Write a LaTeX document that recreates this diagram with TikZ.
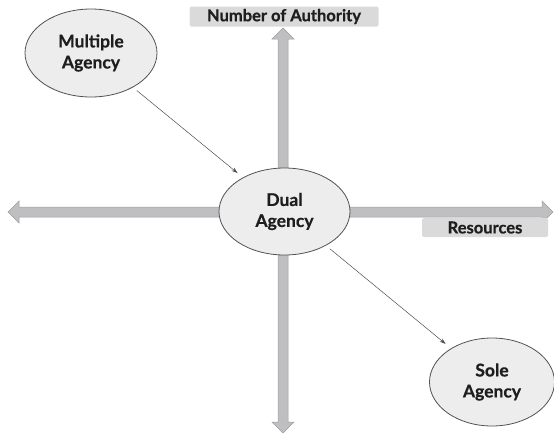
\documentclass[tikz,border=0pt]{standalone}
\usepackage{fontspec}
\setsansfont{Lato}[BoldFeatures={FakeBold=0.6}]
\usepackage{tikz}
\usetikzlibrary{shapes.geometric}
\usetikzlibrary{arrows.meta}

\definecolor{axisgray}{HTML}{BFBFC1}
\definecolor{axisedge}{HTML}{9E9EA0}
\definecolor{cellgray}{HTML}{EDEDED}
\definecolor{tabgray}{HTML}{DADADB}
\definecolor{inkgray}{HTML}{1E1E1E}

\tikzset{
	agency/.style={ellipse, draw=black!68, fill=cellgray, line width=0.8pt,
		align=center, text=inkgray, font=\sffamily\bfseries\fontsize{17.5}{21}\selectfont},
	tab/.style={fill=tabgray, rounded corners=1.5pt, inner sep=0pt, text=inkgray,
		font=\sffamily\bfseries\fontsize{16.5}{19}\selectfont},
	axis/.style={fill=axisgray, draw=axisedge, line width=0.5pt, line join=miter},
	link/.style={draw=black!70, line width=0.5pt, -{Stealth[length=6pt,width=4pt]},
		shorten <=5pt, shorten >=7pt}
}

\begin{document}
\begin{tikzpicture}[x=1pt,y=-1pt]
	\useasboundingbox (0,0) rectangle (554,434);
	% axes
	\draw[axis] (8,212) -- (19,201) -- (19,207) -- (542,207) -- (542,201) -- (553,212)
		-- (542,223) -- (542,217) -- (19,217) -- (19,223) -- cycle;
	\draw[axis] (283,28) -- (294,39) -- (288,39) -- (288,422) -- (294,422) -- (283,433)
		-- (272,422) -- (278,422) -- (278,39) -- (272,39) -- cycle;
	% axis captions
	\node[tab, minimum width=189pt, minimum height=20pt] (authority) at (284,16.5) {Number of Authority};
	\node[tab, minimum width=126pt, minimum height=19pt] (resources) at (485,227.5) {Resources};
	% agency types
	\node[agency, minimum width=132pt, minimum height=88pt] (multiple) at (91,53) {Multiple\\Agency};
	\node[agency, minimum width=131pt, minimum height=87pt] (dual) at (284.5,211.5) {Dual\\Agency};
	\node[agency, minimum width=125pt, minimum height=88pt] (sole) at (492,382) {Sole\\Agency};
	\draw[link] (multiple) -- (dual);
	\draw[link] (dual) -- (sole);
\end{tikzpicture}
\end{document}
